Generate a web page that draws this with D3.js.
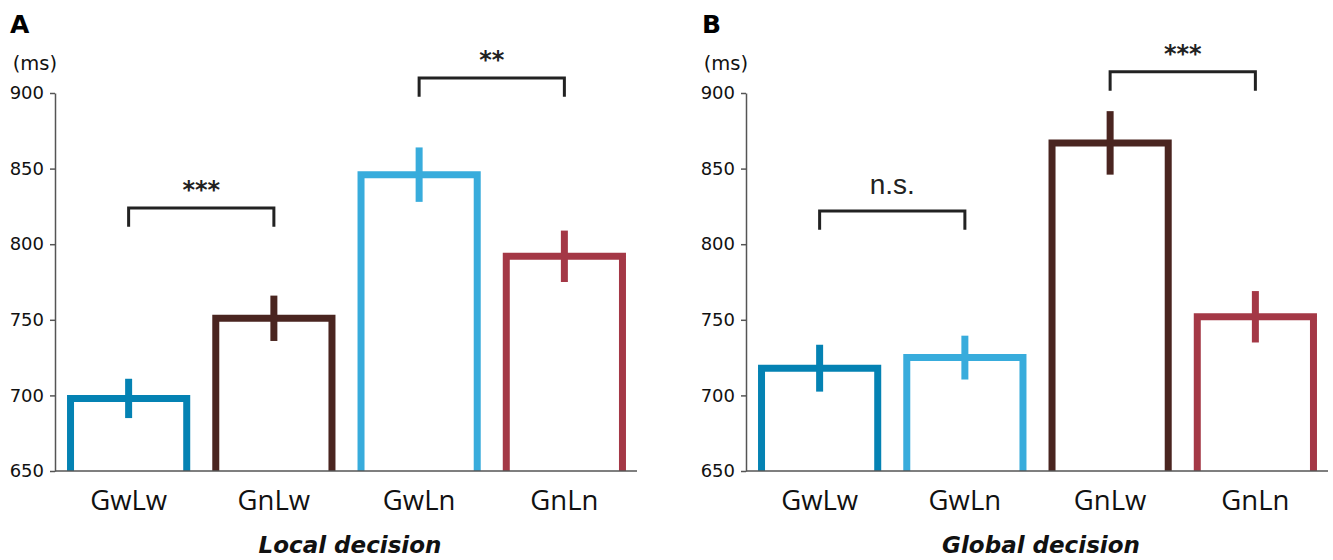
<!DOCTYPE html>
<html>
<head>
<meta charset="utf-8">
<script src="https://cdn.jsdelivr.net/npm/d3@7"></script>
<style>
  body { margin: 0; background: #fff; }
  svg { display: block; }
</style>
</head>
<body>
<svg id="chart" width="1333" height="560"></svg>
<script>
// panel A - local decision
var catsA = ["GwLw", "GnLw", "GwLn", "GnLn"]
var meansA = [698, 751, 846, 792]
var errsA = [13, 15, 18, 17]
var colorsA = ["#0482b3", "#4a2520", "#38acdc", "#a43846"]
var bracketsA = [
    {from: 0, to: 1, level: 824, label: "***"},
    {from: 2, to: 3, level: 910, label: "**"}
]

// panel B - global decision
var catsB = ["GwLw", "GwLn", "GnLw", "GnLn"]
var meansB = [718, 725, 867, 752]
var errsB = [15.5, 14.5, 21, 17]
var colorsB = ["#0482b3", "#38acdc", "#4a2520", "#a43846"]
var bracketsB = [
    {from: 0, to: 1, level: 822, label: "n.s."},
    {from: 2, to: 3, level: 914, label: "***"}
]

var yTicks = [650, 700, 750, 800, 850, 900]

var svg = d3.select("#chart")

var y = d3.scaleLinear().domain([650, 900]).range([471, 93])

function drawPanel(opts) {
    var g = svg.append("g")
    var x = d3.scaleBand()
        .domain(opts.cats)
        .range([opts.left + 1, opts.left + 582])
        .paddingInner(0.2)
        .paddingOuter(0.1)

    var data = opts.cats.map(function (c, i) {
        return {cat: c, mean: opts.means[i], err: opts.errs[i], color: opts.colors[i]}
    })

    // open bars (no bottom edge)
    g.selectAll(".bar")
        .data(data)
        .enter()
        .append("path")
        .attr("class", "bar")
        .attr("fill", "none")
        .attr("stroke", function (d) { return d.color })
        .attr("stroke-width", 7)
        .attr("stroke-linejoin", "miter")
        .attr("d", function (d) {
            var x0 = x(d.cat), x1 = x(d.cat) + x.bandwidth()
            return "M" + x0 + "," + y(650) + "V" + y(d.mean) + "H" + x1 + "V" + y(650)
        })

    g.selectAll(".err")
        .data(data)
        .enter()
        .append("line")
        .attr("class", "err")
        .attr("stroke", function (d) { return d.color })
        .attr("stroke-width", 7)
        .attr("x1", function (d) { return x(d.cat) + x.bandwidth() / 2 })
        .attr("x2", function (d) { return x(d.cat) + x.bandwidth() / 2 })
        .attr("y1", function (d) { return y(d.mean + d.err) })
        .attr("y2", function (d) { return y(d.mean - d.err) })

    // axes
    var yAxis = d3.axisLeft(y).tickValues(yTicks).tickSize(5).tickSizeOuter(0).tickPadding(6)
    var ga = g.append("g")
        .attr("transform", "translate(" + opts.left + ",0)")
        .call(yAxis)
    ga.selectAll("path, line").attr("stroke", "#555").attr("stroke-width", 1.5)
    ga.selectAll("text")
        .attr("font-family", "DejaVu Sans, sans-serif")
        .attr("font-size", 18)
        .attr("fill", "#111")

    g.append("line")
        .attr("x1", opts.left)
        .attr("x2", opts.left + 582)
        .attr("y1", y(650))
        .attr("y2", y(650))
        .attr("stroke", "#555")
        .attr("stroke-width", 1.5)

    g.selectAll(".cat")
        .data(data)
        .enter()
        .append("text")
        .attr("class", "cat")
        .attr("x", function (d) { return x(d.cat) + x.bandwidth() / 2 })
        .attr("y", 510)
        .attr("text-anchor", "middle")
        .attr("font-family", "Open Sans, sans-serif")
        .attr("font-size", 27.5)
        .attr("fill", "#111")
        .text(function (d) { return d.cat })

    // significance brackets
    var legDrop = 12.5
    opts.brackets.forEach(function (b) {
        var xa = x(opts.cats[b.from]) + x.bandwidth() / 2
        var xb = x(opts.cats[b.to]) + x.bandwidth() / 2
        g.append("path")
            .attr("fill", "none")
            .attr("stroke", "#222")
            .attr("stroke-width", 3)
            .attr("d", "M" + xa + "," + y(b.level - legDrop) + "V" + y(b.level) + "H" + xb + "V" + y(b.level - legDrop))
        var isStar = b.label.indexOf("*") > -1
        g.append("text")
            .attr("x", (xa + xb) / 2)
            .attr("y", isStar ? y(b.level) - 10 : y(b.level) - 17)
            .attr("text-anchor", "middle")
            .attr("font-family", isStar ? "DejaVu Sans, sans-serif" : "Liberation Sans, Arial, sans-serif")
            .attr("font-weight", isStar ? "bold" : "normal")
            .attr("font-size", isStar ? 24 : 28)
            .attr("fill", "#222")
            .text(b.label)
    })

    svg.append("text")
        .attr("x", opts.letterX)
        .attr("y", 33)
        .attr("font-family", "DejaVu Sans, sans-serif")
        .attr("font-weight", "bold")
        .attr("font-size", 25)
        .attr("fill", "#000")
        .text(opts.letter)

    svg.append("text")
        .attr("x", opts.left + 2)
        .attr("y", 70)
        .attr("text-anchor", "end")
        .attr("font-family", "DejaVu Sans, sans-serif")
        .attr("font-size", 19.5)
        .attr("fill", "#111")
        .text("(ms)")

    svg.append("text")
        .attr("x", opts.left + 295)
        .attr("y", 553)
        .attr("text-anchor", "middle")
        .attr("font-family", "DejaVu Sans, sans-serif")
        .attr("font-weight", "bold")
        .attr("font-style", "italic")
        .attr("font-size", 23)
        .attr("fill", "#111")
        .text(opts.title)
}

drawPanel({left: 55, cats: catsA, means: meansA, errs: errsA, colors: colorsA,
    brackets: bracketsA, letter: "A", letterX: 10, title: "Local decision"})
drawPanel({left: 746, cats: catsB, means: meansB, errs: errsB, colors: colorsB,
    brackets: bracketsB, letter: "B", letterX: 702, title: "Global decision"})
</script>
</body>
</html>
